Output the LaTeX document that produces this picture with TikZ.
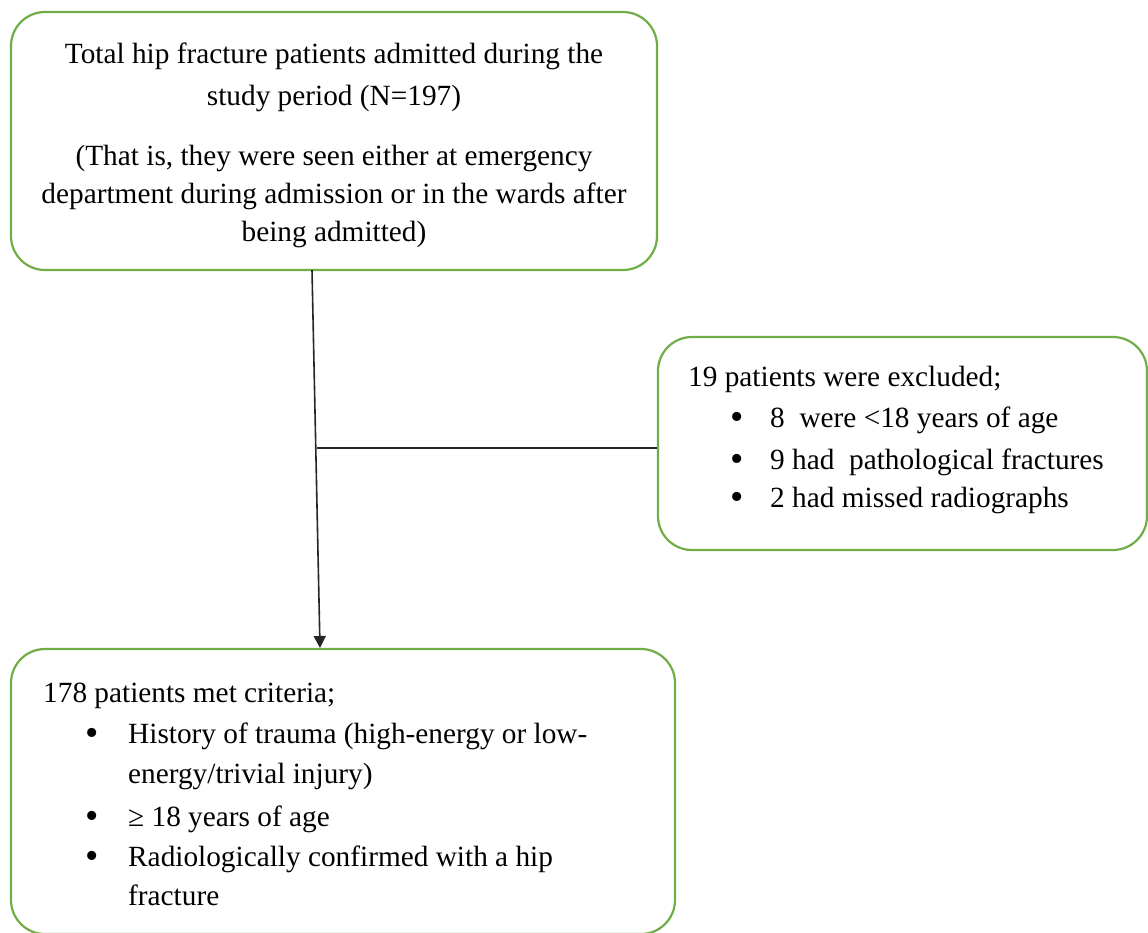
\documentclass[tikz,border=0pt]{standalone}
\usepackage{fontspec}
\setmainfont{Liberation Serif}
\usetikzlibrary{arrows.meta}
\definecolor{boxgreen}{RGB}{112,173,71}
\tikzset{
  flowbox/.style={draw=boxgreen, line width=2.2pt, rounded corners=34pt, fill=white, inner sep=0pt},
  txt/.style={inner sep=0pt, font=\fontsize{29.3}{40}\selectfont},
  ltxt/.style={txt, anchor=base west},
  ctxt/.style={txt, anchor=base},
  bul/.style={inner sep=0pt, anchor=base, font=\fontsize{38}{40}\selectfont},
  link/.style={draw=black!85, line width=1.6pt},
  arrowlink/.style={link, -{Triangle[width=12pt,length=12pt]}}
}
\begin{document}
\begin{tikzpicture}[x=1pt,y=-1pt]
\clip (0,0) rectangle (1148,932);
\useasboundingbox (0,0) rectangle (1148,932);

% boxes
\node[flowbox, minimum width=646pt, minimum height=258pt] (top) at (334,141) {};
\node[flowbox, minimum width=489pt, minimum height=213pt] (excl) at (902.5,443.5) {};
\node[flowbox, minimum width=664pt, minimum height=285pt] (bot) at (343,791.5) {};

% top box text
\node[ctxt] (t1) at (334,63) {Total hip fracture patients admitted during the};
\node[ctxt] (t2) at (334,105) {study period (N=197)};
\node[ctxt] (t3) at (334,165) {(That is, they were seen either at emergency};
\node[ctxt] (t4) at (334,203) {department during admission or in the wards after};
\node[ctxt] (t5) at (334,241) {being admitted)};

% excluded box text
\node[ltxt] (e0) at (688,386) {19 patients were excluded;};
\node[bul] (eb1) at (737,429) {\textbullet};
\node[ltxt] (e1) at (770,427) {8~ were <18 years of age};
\node[bul] (eb2) at (737,471) {\textbullet};
\node[ltxt] (e2) at (770,469) {9 had~ pathological fractures};
\node[bul] (eb3) at (737,509) {\textbullet};
\node[ltxt] (e3) at (770,507) {2 had missed radiographs};

% bottom box text
\node[ltxt] (b0) at (43,702) {178 patients met criteria;};
\node[bul] (bb1) at (92,745) {\textbullet};
\node[ltxt] (b1) at (128,743) {History of trauma (high-energy or low-};
\node[ltxt] (b1b) at (128,783) {energy/trivial injury)};
\node[bul] (bb2) at (92,828) {\textbullet};
\node[ltxt] (b2) at (128,826) {≥ 18 years of age};
\node[bul] (bb3) at (92,868) {\textbullet};
\node[ltxt] (b3) at (128,866) {Radiologically confirmed with a hip};
\node[ltxt] (b3b) at (128,905) {fracture};

% connectors
\coordinate (a) at (312,270);
\coordinate (b) at (320,648);
\coordinate (j) at (316.8,448);
\draw[arrowlink] (a) -- (b);
\draw[link] (j) -- (excl.west |- j);
\end{tikzpicture}
\end{document}
